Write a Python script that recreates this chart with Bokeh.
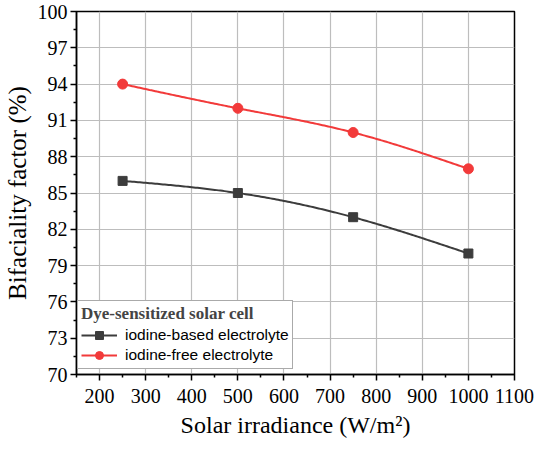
import numpy as np
from bokeh.plotting import figure
from bokeh.models import FixedTicker, Legend, LegendItem
from bokeh.embed import file_html
from bokeh.resources import INLINE

irradiance = [250, 500, 750, 1000]
iodine_based = [86, 85, 83, 80]
iodine_free = [94, 92, 90, 87]
x_ticks = [200, 300, 400, 500, 600, 700, 800, 900, 1000, 1100]
y_ticks = [70, 73, 76, 79, 82, 85, 88, 91, 94, 97, 100]
legend_title = "Dye-sensitized solar cell"
name_based = "iodine-based electrolyte"
name_free = "iodine-free electrolyte"


def natural_spline(xs, ys, n=60):
    xs = np.asarray(xs, float)
    ys = np.asarray(ys, float)
    k = len(xs)
    h = np.diff(xs)
    A = np.zeros((k, k))
    b = np.zeros(k)
    A[0, 0] = 1
    A[-1, -1] = 1
    for i in range(1, k - 1):
        A[i, i - 1] = h[i - 1]
        A[i, i] = 2 * (h[i - 1] + h[i])
        A[i, i + 1] = h[i]
        b[i] = 3 * ((ys[i + 1] - ys[i]) / h[i] - (ys[i] - ys[i - 1]) / h[i - 1])
    c = np.linalg.solve(A, b)
    out_x, out_y = [], []
    for i in range(k - 1):
        bb = (ys[i + 1] - ys[i]) / h[i] - h[i] * (2 * c[i] + c[i + 1]) / 3
        d = (c[i + 1] - c[i]) / (3 * h[i])
        t = np.linspace(0, h[i], n, endpoint=(i == k - 2))
        out_x.extend(xs[i] + t)
        out_y.extend(ys[i] + bb * t + c[i] * t ** 2 + d * t ** 3)
    return out_x, out_y


serif = "Liberation Serif"
sans = "Liberation Sans"
dark = "#3c3c3c"
red = "#f23a3a"

p = figure(width=534, height=440, x_range=(150, 1100), y_range=(70, 100),
           output_backend="svg", toolbar_location=None,
           min_border_left=64, min_border_right=20, min_border_top=11, min_border_bottom=66)

p.outline_line_color = "black"
p.outline_line_width = 1.5
p.background_fill_color = "white"
p.border_fill_color = "white"

for ax in (p.xaxis[0], p.yaxis[0]):
    ax.axis_line_width = 1.5
    ax.axis_line_color = "black"
    ax.major_tick_line_width = 1.5
    ax.minor_tick_line_width = 1.5
    ax.major_tick_in = 0
    ax.major_tick_out = 6
    ax.minor_tick_in = 0
    ax.minor_tick_out = 3
    ax.major_label_text_font = serif
    ax.major_label_text_font_size = "20px"
    ax.major_label_text_color = "black"
    ax.axis_label_text_font = serif
    ax.axis_label_text_font_style = "normal"
    ax.axis_label_text_color = "black"

p.xaxis[0].axis_label_text_font_size = "24px"
p.yaxis[0].axis_label_text_font_size = "25px"
p.xaxis[0].ticker = FixedTicker(ticks=x_ticks, minor_ticks=[t - 50 for t in x_ticks])
p.yaxis[0].ticker = FixedTicker(ticks=y_ticks, minor_ticks=[t + 1.5 for t in y_ticks[:-1]])
p.xaxis[0].axis_label = "Solar irradiance (W/m²)"
p.yaxis[0].axis_label = "Bifaciality factor (%)"
p.xaxis[0].major_label_standoff = 8
p.yaxis[0].major_label_standoff = 3
p.xaxis[0].axis_label_standoff = 6
p.yaxis[0].axis_label_standoff = 4

p.xgrid.grid_line_color = "#bdbdbd"
p.ygrid.grid_line_color = "#bdbdbd"
p.xgrid.grid_line_width = 1.2
p.ygrid.grid_line_width = 1.2

bx, by = natural_spline(irradiance, iodine_based)
fx, fy = natural_spline(irradiance, iodine_free)

l1 = p.line(bx, by, line_color=dark, line_width=2)
m1 = p.scatter(irradiance, iodine_based, marker="square", size=9, fill_color=dark, line_color=dark)
l2 = p.line(fx, fy, line_color=red, line_width=2)
m2 = p.scatter(irradiance, iodine_free, marker="circle", size=10, fill_color=red, line_color=red)

legend = Legend(items=[LegendItem(label=name_based, renderers=[l1, m1]),
                       LegendItem(label=name_free, renderers=[l2, m2])],
                location=(1, 5), title=legend_title,
                title_text_font=serif, title_text_font_style="bold", title_text_font_size="17px",
                label_text_font=sans, label_text_font_size="15.5px", label_text_color="black",
                border_line_color="#555555", border_line_width=1,
                background_fill_alpha=1.0, padding=3, spacing=0, margin=0,
                glyph_width=36, glyph_height=20, label_height=20, label_standoff=8,
                title_standoff=1)
p.add_layout(legend, "center")

open("out.html", "w").write(file_html(p, INLINE))
